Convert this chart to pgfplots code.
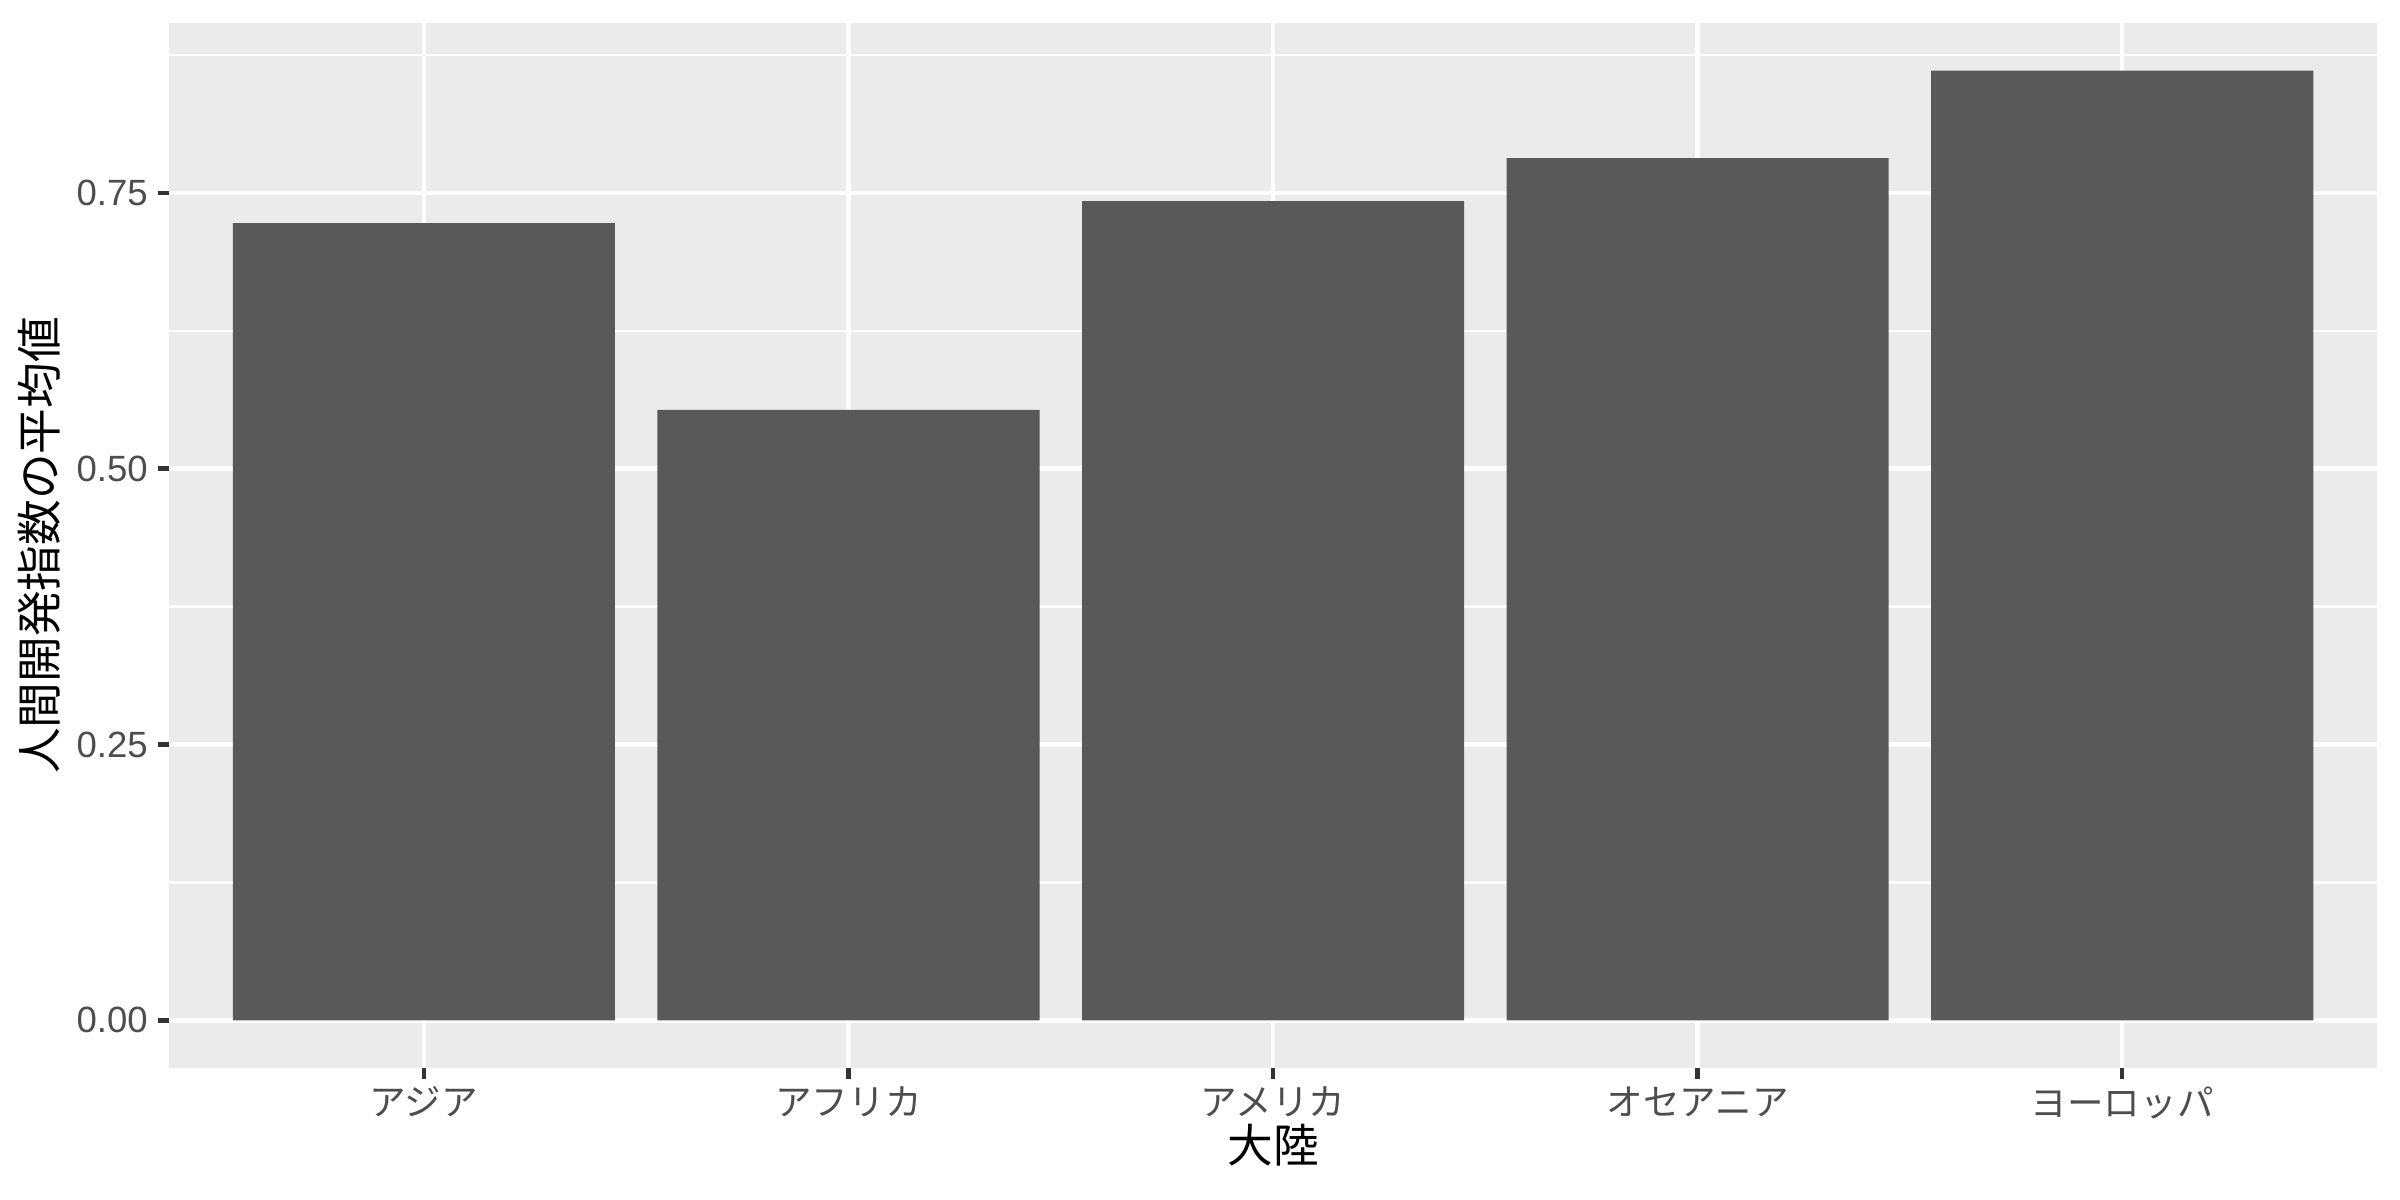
\documentclass[border=0pt]{standalone}
\usepackage{fontspec}
\setmainfont{Liberation Sans}
\newfontfamily\cjk{Noto Sans CJK JP}
\usepackage{pgfplots}
\pgfplotsset{compat=1.18}
\definecolor{panel}{HTML}{EBEBEB}
\definecolor{barc}{HTML}{595959}
\definecolor{g30}{HTML}{4D4D4D}
\definecolor{g20}{HTML}{333333}
\begin{document}
\begin{tikzpicture}
\begin{axis}[
  scale only axis, width=18.69cm, height=8.845cm,
  xmin=0.4, xmax=5.6, ymin=-0.04304, ymax=0.90384,
  axis background/.style={fill=panel},
  axis line style={draw=none},
  xtick={1,2,3,4,5},
  xticklabels={{\cjk アジア},{\cjk アフリカ},{\cjk アメリカ},{\cjk オセアニア},{\cjk ヨーロッパ}},
  ytick={0,0.25,0.5,0.75},
  yticklabels={0.00,0.25,0.50,0.75},
  minor ytick={0.125,0.375,0.625,0.875},
  grid=both,
  major grid style={white, line width=1.07pt},
  minor grid style={white, line width=0.53pt},
  tick style={g20, line width=1.07pt},
  major tick length=0.097cm,
  minor tick length=0pt,
  tick align=outside,
  xtick pos=bottom, ytick pos=left,
  ticklabel style={font=\fontsize{8.8}{10}\selectfont, text=g30},
  yticklabel style={inner sep=0pt, xshift=-2.2pt},
  xticklabel style={inner sep=0pt, yshift=-1.6pt},
  xlabel={\cjk 大陸},
  ylabel={\cjk 人間開発指数の平均値},
  label style={font=\fontsize{11}{13}\selectfont, text=black},
  xlabel style={inner sep=0pt, yshift=-1pt},
  ylabel style={inner sep=0pt, yshift=3.8pt},
]
\addplot[ybar, bar width=0.9, fill=barc, draw=none] coordinates {
  (1,0.7226) (2,0.5532) (3,0.7425) (4,0.7814) (5,0.8608)
};
\end{axis}
\pgfresetboundingbox
\path[use as bounding box] ([xshift=-1.432cm,yshift=-1.115cm]current axis.south west) rectangle ([xshift=0.195cm,yshift=0.195cm]current axis.north east);
\end{tikzpicture}
\end{document}
